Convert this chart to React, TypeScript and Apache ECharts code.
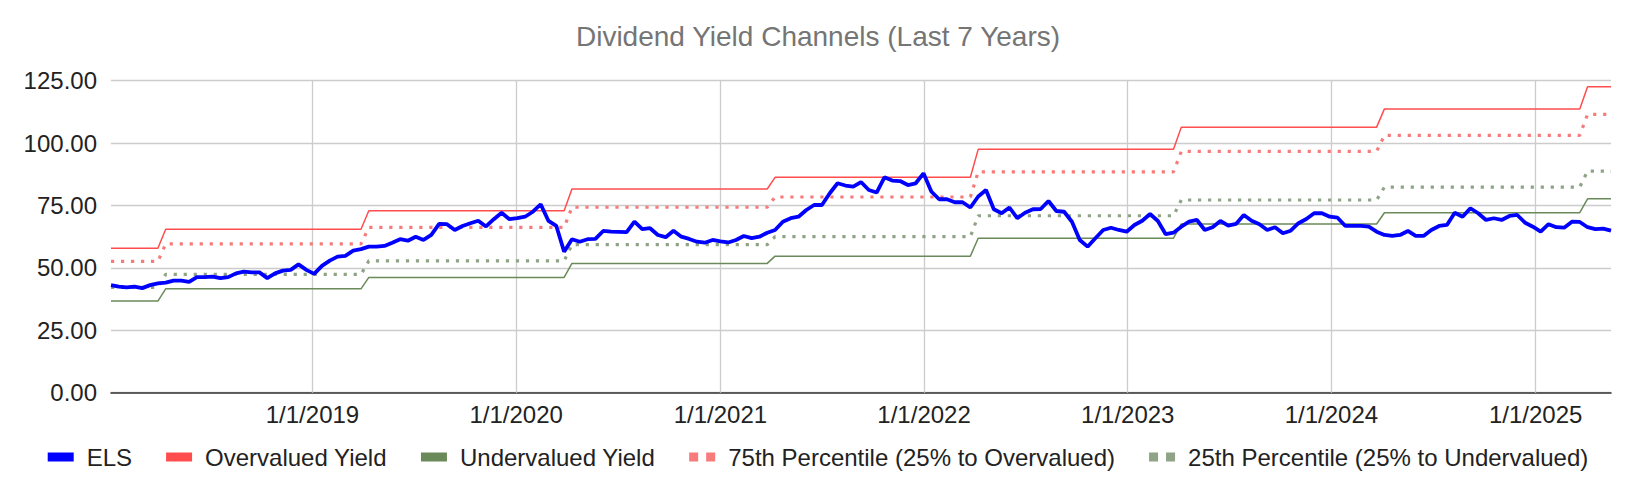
import React, { useEffect, useRef } from "react";
import * as echarts from "echarts";

// ---- data (biweekly Fridays, starting 2018-01-05) ----
const START_DATE = Date.UTC(2018, 0, 5);
const STEP_DAYS = 14;

const elsValues = [
  43.1, 42.5, 42.2, 42.5, 41.9, 43.1, 43.8, 44.1, 44.9, 44.9,
  44.4, 46.3, 46.3, 46.5, 45.9, 46.3, 47.8, 48.5, 48.2, 48.2,
  45.9, 47.8, 48.9, 49.2, 51.4, 49.2, 47.6, 50.8, 52.9, 54.5,
  54.8, 56.9, 57.5, 58.5, 58.5, 58.8, 60.1, 61.5, 60.9, 62.5,
  61.2, 63.2, 67.6, 67.5, 65.2, 66.8, 67.9, 68.9, 66.6,
  69.5, 72.1, 69.5, 69.9, 70.5, 72.5, 75.5, 68.8, 66.8, 56.5,
  61.5, 60.5, 61.5, 61.6, 64.8, 64.5, 64.4, 64.3, 68.5, 65.5,
  65.9, 63.2, 62.3, 64.9, 62.5, 61.6, 60.5, 60.1, 61.2, 60.6,
  60.2, 61.2, 62.8, 61.9, 62.5, 64.1, 65.2, 68.5, 69.9, 70.5,
  73.2, 75.2, 75.2, 79.9, 83.9, 83.0, 82.6, 84.4,
  81.2, 80.2, 86.3, 85.0, 84.8, 83.2, 83.9, 87.9, 80.6, 77.5,
  77.5, 76.3, 76.3, 74.2, 78.6, 81.2, 73.5, 71.9, 74.2, 69.9,
  72.1, 73.5, 73.6, 76.8, 72.8, 72.5, 68.5, 61.2, 58.5, 61.9,
  65.2, 66.1, 65.2, 64.5, 67.2, 68.9, 71.6, 68.8, 63.5, 64.1,
  66.5, 68.5, 69.2, 65.2, 66.3, 68.8, 66.9, 67.6,
  71.2, 68.9, 67.5, 65.2, 66.3, 63.9, 64.9, 67.9, 69.6, 71.9,
  71.9, 70.5, 70.1, 66.8, 66.8, 66.8, 66.5, 64.5, 63.2, 62.8,
  63.2, 64.8, 62.8, 62.8, 65.2, 66.8, 67.2, 72.1, 70.5, 73.9,
  71.9, 69.2, 69.9, 69.2, 70.8, 71.2, 68.1, 66.5, 64.5, 67.5,
  66.3, 66.1, 68.5, 68.4, 66.3, 65.5, 65.7, 64.9,
];

// index (in the biweekly series) at which each annual channel level begins
const levelStartIndex = [0, 7, 33, 59, 85, 111, 137, 163, 189];
const overvaluedLevels = [57.9, 65.5, 72.9, 81.6, 86.3, 97.5, 106.4, 113.7, 122.6];
const pct75Levels = [52.6, 59.6, 66.2, 74.3, 78.4, 88.5, 96.7, 103.1, 111.5];
const undervaluedLevels = [36.7, 41.6, 46.2, 51.8, 54.7, 61.9, 67.6, 72.1, 77.7];
const pct25Levels = [42.2, 47.4, 52.8, 59.3, 62.5, 70.9, 77.2, 82.4, 88.8];

const yearGridYears = [2019, 2020, 2021, 2022, 2023, 2024, 2025];
const yearGridLabels = ["1/1/2019", "1/1/2020", "1/1/2021", "1/1/2022", "1/1/2023", "1/1/2024", "1/1/2025"];

const yTickMin = 0;
const yTickMax = 125;
const yTickStep = 25;

const TITLE = "Dividend Yield Channels (Last 7 Years)";
const NAMES = [
  "ELS",
  "Overvalued Yield",
  "Undervalued Yield",
  "75th Percentile (25% to Overvalued)",
  "25th Percentile (25% to Undervalued)",
];

const COLORS = {
  els: "#0000ff",
  over: "#ff4d4d",
  under: "#6a8a5a",
  p75: "#f77b7b",
  p25: "#8fa486",
};

const FONT = "'Liberation Sans', Arial, Helvetica, sans-serif";
const DOTS_ICON = "path://M0,0H9V9H0Z M17,0H26V9H17Z";

const dates = elsValues.map((_, i) => START_DATE + i * STEP_DAYS * 86400000);

function levelAt(i: number, levels: number[]) {
  let k = 0;
  for (let j = 0; j < levelStartIndex.length; j++) {
    if (levelStartIndex[j] <= i) k = j;
  }
  return levels[k];
}

const pairs = (levels: number[] | null) =>
  dates.map((t, i) => [t, levels ? levelAt(i, levels) : elsValues[i]]);

export default function App() {
  const ref = useRef<HTMLDivElement>(null);

  useEffect(() => {
    if (!ref.current) return;
    const chart = echarts.init(ref.current, undefined, { renderer: "svg" });

    const option: any = {
      animation: false,
      backgroundColor: "#ffffff",
      title: {
        text: TITLE,
        left: "center",
        top: 17,
        textStyle: { color: "#757575", fontSize: 28, fontWeight: "normal", fontFamily: FONT },
      },
      legend: {
        top: 440,
        left: "center",
        itemWidth: 26,
        itemHeight: 9,
        itemGap: 34,
        selectedMode: false,
        textStyle: { fontSize: 24, color: "#222222", fontFamily: FONT, padding: [0, 0, 0, 8] },
        data: [
          { name: NAMES[0], icon: "rect", itemStyle: { color: COLORS.els } },
          { name: NAMES[1], icon: "rect", itemStyle: { color: COLORS.over } },
          { name: NAMES[2], icon: "rect", itemStyle: { color: COLORS.under } },
          { name: NAMES[3], icon: DOTS_ICON, itemStyle: { color: COLORS.p75 } },
          { name: NAMES[4], icon: DOTS_ICON, itemStyle: { color: COLORS.p25 } },
        ],
      },
      grid: { left: 111, right: 25, top: 80.7, bottom: 101.3 },
      xAxis: {
        type: "time",
        min: dates[0],
        max: dates[dates.length - 1],
        axisLine: { show: true, onZero: true, lineStyle: { color: "#333333", width: 1.6 } },
        axisTick: { show: false },
        axisLabel: { show: false },
        splitLine: { show: false },
      },
      yAxis: {
        type: "value",
        min: yTickMin,
        max: yTickMax,
        interval: yTickStep,
        axisLine: { show: false },
        axisTick: { show: false },
        axisLabel: {
          formatter: (v: number) => v.toFixed(2),
          fontSize: 24,
          color: "#222222",
          margin: 14,
          fontFamily: FONT,
        },
        splitLine: { lineStyle: { color: "#cccccc", width: 1.3 } },
      },
      series: [
        {
          name: NAMES[0],
          type: "line",
          data: pairs(null),
          symbol: "none",
          z: 5,
          color: COLORS.els,
          lineStyle: { color: COLORS.els, width: 3.8 },
        },
        {
          name: NAMES[1],
          type: "line",
          data: pairs(overvaluedLevels),
          symbol: "none",
          z: 3,
          color: COLORS.over,
          lineStyle: { color: COLORS.over, width: 1.5 },
        },
        {
          name: NAMES[2],
          type: "line",
          data: pairs(undervaluedLevels),
          symbol: "none",
          z: 3,
          color: COLORS.under,
          lineStyle: { color: COLORS.under, width: 1.5 },
          markLine: {
            silent: true,
            z: 1,
            symbol: ["none", "none"],
            animation: false,
            lineStyle: { color: "#cccccc", width: 1.3, type: "solid" },
            emphasis: { disabled: true },
            label: {
              show: true,
              position: "start",
              distance: 10,
              formatter: "{b}",
              fontSize: 24,
              color: "#222222",
              fontFamily: FONT,
            },
            data: yearGridYears.map((y, k) => ({ xAxis: Date.UTC(y, 0, 1), name: yearGridLabels[k] })),
          },
        },
        {
          name: NAMES[3],
          type: "line",
          data: pairs(pct75Levels),
          symbol: "none",
          z: 3,
          color: COLORS.p75,
          lineStyle: { color: COLORS.p75, width: 3.2, type: [3.2, 6.8], cap: "butt" },
        },
        {
          name: NAMES[4],
          type: "line",
          data: pairs(pct25Levels),
          symbol: "none",
          z: 3,
          color: COLORS.p25,
          lineStyle: { color: COLORS.p25, width: 3.2, type: [3.2, 6.8], cap: "butt" },
        },
      ],
    };

    chart.setOption(option);
    return () => chart.dispose();
  }, []);

  return (
    <div
      ref={ref}
      style={{ position: "fixed", left: 0, top: 0, width: 1636, height: 494, background: "#fff" }}
    />
  );
}
